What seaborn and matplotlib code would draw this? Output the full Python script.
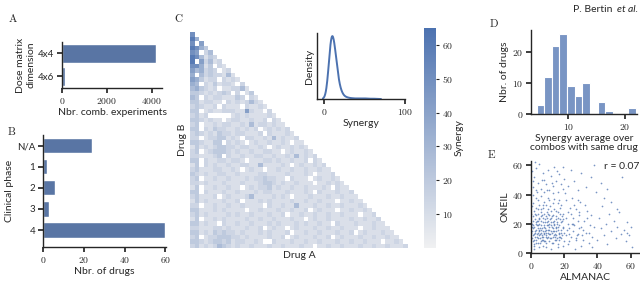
import numpy as np
import pandas as pd
import seaborn as sns
import matplotlib.pyplot as plt
from matplotlib.ticker import FuncFormatter

# ---- data ----
dose_dims = ['4x4', '4x6']
dose_counts = [4200, 150]

phases = ['N/A', '1', '2', '3', '4']
phase_counts = [24, 2, 6, 3, 60]

# lower-triangular synergy matrix (coarse), one char per cell, '.' = missing
syn_levels = {'1': 4, '2': 9, '3': 14, '4': 20, '5': 27, '6': 34, '7': 42, '8': 50, '9': 60}
syn_rows = [
    "8",
    "96",
    "8.7",
    "9864",
    "87.35",
    "98524 3",
    "9.735 23",
    "88624 .32",
    "75634 3.23",
    "6.534 33252",
    "76423 3.323 2",
    "65.32 42332 .3",
    "56432 3.223 352",
    "44323 2343. 3.24",
    "54.32 33222 43.32",
    "44233 22.32 32353 2",
    "34322 3.322 2.322 32",
    "44.23 22333 22732 2.3",
    "3423. ....2 32322 2232",
    "44323 22.23 32232 23.32",
    "34.22 32332 23252 33232 2",
    "44.32 43322 32323 .2323 23",
    "34323 24332 33222 3.322 232",
    "33.23 34423 2.332 23252 3223",
    "44322 44.32 32.23 22322 32.22",
    "24232 34433 23322 32.23 22323 2",
    "34.23 44432 32232 23322 .2322 32",
    "33222 34.32 23223 32232 23252 323",
    "44.32 23323 32.22 23323 22322 3.32",
    "24.32 32232 23322 52222 32.23 22323",
    "34222 33223 2.232 2.223 22322 32232 2",
    "43232 23322 32222 33222 23222 32.22 23",
    "34.22 32232 22323 34332 2.322 2.232 232",
    "33232 22322 23222 34432 32232 22.22 3232",
    "24.22 32232 2.232 33423 22322 32223 2.322",
    "44.32 22322 32223 23322 23222 32.32 22322 3",
    "34222 3.232 22352 22232 32.22 23222 32232 22",
    "24232 22322 3.222 32322 22322 32232 22.22 322",
    "33.22 32232 23222 2.322 32252 22322 32232 2232",
    "44222 32322 22.22 32223 22322 3.232 22.22 32232",
    "34232 22232 32232 22322 3.223 22322 32232 22.22 3",
    "24.22 32322 22322 32232 22322 .2322 32222 32232 23",
    "44232 2.322 32232 22323 22232 32232 2.322 23222 322",
    "33222 33232 22322 3.232 2.232 22322 32232 22.22 3222",
    "44232 43433 23222 32322 23.22 32232 22322 3.232 22322",
    "34.23 34443 32322 22322 3.232 22322 3.232 22322 32232 2",
    "44323 44342 33223 2..32 22322 32232 22322 32232 22.22 32",
    "34232 35432 32232 22322 32223 22.22 32232 22322 32232 223",
]

drug_avg_centers = [5.1, 6.4, 7.8, 9.1, 10.4, 11.8, 13.1, 14.5, 15.8, 17.1, 18.5, 19.8, 21.2]
drug_avg_counts = [3, 12, 22, 26, 9, 6, 10, 0, 4, 1, 0, 0, 2]

e_points = [
    (1, 12), (2, 18), (3, 9), (4, 22), (5, 15), (6, 28), (7, 11), (8, 19), (9, 25), (10, 14),
    (11, 8), (12, 21), (13, 17), (14, 30), (15, 12), (16, 24), (17, 9), (18, 16), (19, 27), (2, 6),
    (3, 31), (4, 14), (5, 20), (6, 8), (7, 24), (8, 13), (9, 33), (10, 19), (11, 26), (12, 10),
    (13, 7), (14, 22), (15, 18), (16, 34), (17, 13), (18, 21), (1, 25), (2, 29), (3, 16), (4, 10),
    (5, 33), (6, 19), (7, 5), (8, 27), (9, 12), (10, 38), (11, 16), (12, 29), (13, 11), (14, 15),
    (0.5, 20), (1.5, 8), (2.5, 23), (3.5, 13), (4.5, 27), (5.5, 10), (6.5, 17), (7.5, 31), (8.5, 8), (9.5, 21),
    (10.5, 11), (11.5, 23), (12.5, 14), (13.5, 26), (14.5, 9), (15.5, 20), (16.5, 6), (17.5, 27), (18.5, 12), (19.5, 18),
    (0.8, 15), (1.2, 34), (2.2, 11), (3.1, 26), (4.3, 7), (5.1, 24), (6.2, 14), (7.3, 21), (8.1, 35), (9.2, 16),
    (10.2, 27), (11.3, 13), (12.4, 18), (13.2, 34), (14.1, 20), (15.3, 15), (16.2, 28), (17.1, 19), (18.2, 10), (19.1, 23),
    (0.3, 27), (1.7, 5), (2.8, 38), (3.6, 19), (4.7, 16), (5.8, 30), (6.7, 12), (7.8, 8), (8.7, 23), (9.8, 10),
    (10.8, 18), (11.7, 32), (12.8, 7), (13.7, 19), (14.8, 25), (15.7, 10), (16.8, 14), (17.7, 31), (18.8, 22), (19.8, 8),
    (1, 40), (2, 3), (3, 43), (4, 36), (5, 4), (6, 39), (7, 33), (8, 42), (9, 4), (10, 30),
    (11, 36), (12, 3), (13, 41), (14, 37), (15, 29), (16, 4), (17, 36), (18, 33), (19, 5), (20, 14),
    (0.4, 10), (1.1, 22), (2.4, 14), (3.3, 7), (4.1, 30), (5.4, 17), (6.3, 22), (7.1, 15), (8.3, 17), (9.4, 28),
    (10.3, 22), (11.1, 20), (12.2, 24), (13.3, 15), (14.3, 11), (15.1, 23), (16.4, 18), (17.3, 11), (18.4, 25), (19.3, 17),
    (0.6, 32), (1.4, 17), (2.6, 27), (3.8, 22), (4.9, 12), (5.6, 7), (6.9, 26), (7.6, 18), (8.9, 14), (9.6, 19),
    (0.2, 14), (1.3, 19), (2.1, 9), (3.2, 21), (4.2, 17), (5.2, 13), (6.1, 25), (7.2, 9), (8.2, 21), (9.1, 7),
    (10.1, 16), (11.2, 10), (12.1, 15), (13.1, 21), (14.2, 13), (15.2, 9), (16.1, 16), (17.2, 23), (18.1, 14), (0.9, 18),
    (1.8, 13), (2.9, 20), (3.9, 11), (4.8, 23), (5.9, 16), (6.8, 9), (7.9, 14), (8.8, 11), (9.9, 24), (10.9, 13),
    (11.9, 19), (12.9, 25), (13.9, 12), (14.9, 17), (15.9, 21), (16.9, 11), (2.3, 15), (4.4, 19), (6.4, 11), (8.4, 15),
    (21, 12), (22, 20), (23, 8), (24, 27), (25, 15), (26, 33), (27, 10), (28, 22), (29, 17), (30, 5),
    (21, 36), (22, 28), (23, 17), (24, 11), (25, 24), (26, 19), (27, 30), (28, 13), (29, 26), (30, 18),
    (31, 9), (32, 22), (33, 14), (34, 29), (35, 7), (20.5, 41), (22.5, 6), (24.5, 38), (26.5, 3), (28.5, 36),
    (21.5, 16), (23.5, 31), (25.5, 20), (27.5, 12), (29.5, 35), (31.5, 16), (33.5, 24), (35.5, 19), (20.8, 24), (22.8, 13),
    (24.8, 20), (26.8, 9), (28.8, 28), (30.8, 12), (32.8, 33), (34.8, 14), (36, 26), (37, 11), (38, 18), (36.5, 4),
    (1, 45), (2, 52), (3, 58), (4, 48), (5, 61), (6, 44), (7, 55), (8, 50), (9, 47), (10, 57),
    (11, 43), (12, 53), (13, 46), (14, 59), (15, 49), (16, 42), (17, 54), (18, 47), (19, 44), (20, 51),
    (22, 46), (24, 57), (26, 49), (28, 43), (30, 55), (33, 45), (36, 52), (0.5, 56), (1.5, 49), (3.5, 42),
    (6.5, 50), (9.5, 43), (12.5, 48), (15.5, 56), (19.5, 59), (38, 60), (42, 48), (2.5, 62),
    (40, 9), (41, 24), (42, 17), (43, 32), (44, 12), (45, 20), (46, 6), (47, 27), (48, 15), (50, 22),
    (51, 10), (52, 18), (53, 28), (54, 13), (55, 52), (56, 16), (57, 8), (58, 21), (59, 12), (60, 18),
    (61, 4), (44, 38), (48, 35), (52, 30), (39, 42), (58, 14), (46, 44),
]
r_value = 0.07

# ---- build tables ----
n = len(syn_rows)
syn = np.full((n, n), np.nan)
for i, row in enumerate(syn_rows):
    for j, ch in enumerate(row.replace(' ', '')):
        if ch != '.':
            syn[i, j] = syn_levels[ch]
syn_df = pd.DataFrame(syn)
e_df = pd.DataFrame(e_points, columns=['ALMANAC', 'ONEIL'])

# ---- style ----
sns.set_theme(style='ticks')
plt.rcParams['font.family'] = ['Lato', 'DejaVu Sans']
plt.rcParams.update({
    'mathtext.fontset': 'cm',
    'font.size': 7.5,
    'axes.labelsize': 7.5,
    'xtick.labelsize': 7,
    'ytick.labelsize': 7,
    'axes.linewidth': 1.0,
    'axes.edgecolor': '.15',
    'xtick.major.size': 3.5,
    'ytick.major.size': 3.5,
    'xtick.major.pad': 2,
    'ytick.major.pad': 2,
    'axes.labelpad': 2,
})
blue = '#4c72b0'
serif_num = FuncFormatter(lambda v, p: '$%g$' % v)

W, H = 640, 283
fig = plt.figure(figsize=(W / 100, H / 100), dpi=100)


def add_ax(l, t, r, b):
    return fig.add_axes([l / W, 1 - b / H, (r - l) / W, (b - t) / H])


def letter(x, y, s):
    fig.text(x / W, 1 - y / H, r'$\mathrm{%s}$' % s, fontsize=8, ha='center', va='center')


# A
axA = add_ax(62, 42, 162, 88)
sns.barplot(x=dose_counts, y=dose_dims, orient='h', color=blue, width=0.82, ax=axA)
axA.set_xlim(0, 4460)
axA.set_xticks([0, 2000, 4000])
axA.xaxis.set_major_formatter(serif_num)
axA.set_xlabel('Nbr. comb. experiments')
axA.set_ylabel('Dose matrix\ndimension')
sns.despine(ax=axA)

# B
axB = add_ax(43, 135, 166, 247)
sns.barplot(x=phase_counts, y=phases, orient='h', color=blue, width=0.72, ax=axB)
axB.set_ylim(4.8, -0.5)
axB.set_xlim(0, 60.3)
axB.set_xticks([0, 20, 40, 60])
axB.xaxis.set_major_formatter(serif_num)
axB.set_xlabel('Nbr. of drugs')
axB.set_ylabel('Clinical phase')
sns.despine(ax=axB)

# C heatmap
axC = add_ax(190, 32, 408, 248)
cax = add_ax(424, 28, 436, 248)
cmap = sns.light_palette(blue, as_cmap=True)
sns.heatmap(syn_df, cmap=cmap, vmin=0, vmax=65, ax=axC, cbar_ax=cax,
            xticklabels=False, yticklabels=False)
axC.set_xlabel('Drug A')
axC.set_ylabel('Drug B')
cax.yaxis.set_major_formatter(serif_num)
cax.set_yticks([10, 20, 30, 40, 50, 60])
cax.tick_params(length=2.5, width=0.8)
cax.set_ylabel('Synergy', labelpad=1)
for s in cax.spines.values():
    s.set_visible(False)

# inset KDE
axI = add_ax(317, 33, 405, 99)
sns.kdeplot(x=syn_df.stack().values, ax=axI, color=blue, lw=1.4, bw_adjust=2.2)
axI.set_xlim(-8.6, 100)
axI.set_xticks([0, 100])
axI.xaxis.set_major_formatter(serif_num)
axI.set_yticks([])
axI.set_xlabel('Synergy')
axI.set_ylabel('Density')
axI.patch.set_alpha(0)
sns.despine(ax=axI)

# D
axD = add_ax(531, 30, 637, 114)
sns.histplot(x=drug_avg_centers, weights=drug_avg_counts, bins=13, binrange=(4.4, 21.85),
             color=blue, ax=axD, edgecolor='white', linewidth=0.8)
axD.set_xlim(3.4, 22.1)
axD.set_ylim(0, 27.3)
axD.set_xticks([10, 20])
axD.set_yticks([0, 10, 20])
axD.xaxis.set_major_formatter(serif_num)
axD.yaxis.set_major_formatter(serif_num)
axD.set_ylabel('Nbr. of drugs')
axD.set_xlabel('Synergy average over\ncombos with same drug', linespacing=1.0)
sns.despine(ax=axD)

# E
axE = add_ax(531, 161, 639, 253)
sns.scatterplot(data=e_df, x='ALMANAC', y='ONEIL', s=1.5, color=blue, linewidth=0, alpha=0.75, ax=axE)
axE.set_xlim(0, 65)
axE.set_ylim(0, 63)
axE.set_xticks([0, 20, 40, 60])
axE.set_yticks([0, 20, 40, 60])
axE.xaxis.set_major_formatter(serif_num)
axE.yaxis.set_major_formatter(serif_num)
axE.text(1.0, 0.99, 'r = %.2f' % r_value, transform=axE.transAxes, ha='right', va='top', fontsize=7.5)
sns.despine(ax=axE)

letter(13, 18, 'A')
letter(12, 131, 'B')
letter(179, 18, 'C')
letter(494, 23, 'D')
letter(492, 154, 'E')

fig.text(638 / W, 1 - 10 / H, 'et al.', style='italic', ha='right', va='center', fontsize=7.5)
fig.text(612 / W, 1 - 10 / H, 'P. Bertin', ha='right', va='center', fontsize=7.5)

fig.savefig('out.png', dpi=100)
